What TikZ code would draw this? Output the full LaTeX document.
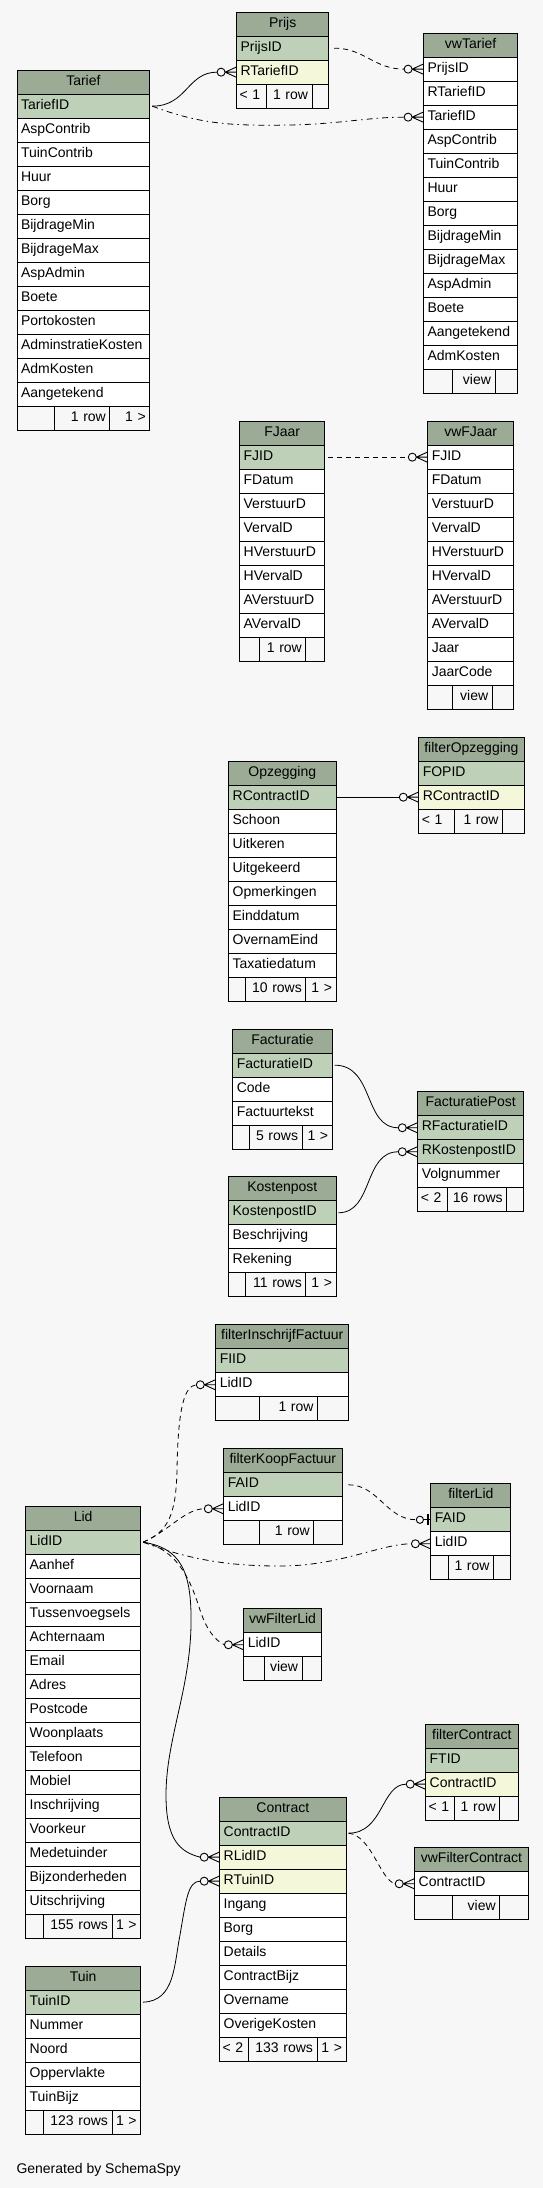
\documentclass[tikz,border=0pt]{standalone}
\usepackage{fontspec}
\setmainfont{Liberation Sans}
\definecolor{bgc}{HTML}{F7F7F7}
\definecolor{hdrc}{HTML}{9BAB96}
\definecolor{pkc}{HTML}{BED1B8}
\definecolor{ixc}{HTML}{F4F7DA}
\newcommand\st{\rule[-4pt]{0pt}{14pt}}
\tikzset{
  cell/.style={draw,line width=0.9pt,anchor=north west,minimum height=24pt,inner xsep=4pt,inner ysep=0pt,align=left,fill=white,font=\fontsize{14}{16}\selectfont},
  hdr/.style={fill=hdrc,align=center},
  pk/.style={fill=pkc},
  ix/.style={fill=ixc},
  nm/.style={},
  fcell/.style={cell,fill=bgc,inner xsep=3pt},
  rel/.style={line width=0.8pt},
  reldash/.style={rel,dash pattern=on 5pt off 4pt},
  reldashdot/.style={rel,dash pattern=on 6pt off 4pt on 1.5pt off 4pt},
  mk/.style={line width=0.9pt}
}
\newcommand\cell[6]{%
  \pgfmathsetmacro\cellw{#4-8}%
  \node[cell,#5,minimum width=#4pt,text width=\cellw pt] (#1) at (#2,{#3}) {\st#6};%
}
\newcommand\rows[5]{%
  \foreach \nm/\sty [count=\i] in {#5} {\cell{#1-\nm}{#2}{#3+24*\i}{#4}{\sty}{\nm}}%
}
\newcommand\foot[9]{%
  \pgfmathsetmacro\fa{#4-6}\pgfmathsetmacro\fb{#5-8}\pgfmathsetmacro\fc{#6-8}%
  \pgfmathsetmacro\xb{#2+#4}\pgfmathsetmacro\xc{#2+#4+#5}%
  \node[fcell,align=left,minimum width=#4pt,text width=\fa pt] (#1-f1) at (#2,{#3}) {\st\mbox{#7}};%
  \node[fcell,inner xsep=4pt,align=right,minimum width=#5pt,text width=\fb pt] (#1-f2) at (\xb,{#3}) {\st\mbox{#8}};%
  \node[fcell,inner xsep=4pt,align=right,minimum width=#6pt,text width=\fc pt] (#1-f3) at (\xc,{#3}) {\st\mbox{#9}};%
}
\newcommand\crowodot[1]{%
  \draw[mk] ([xshift=-11pt]#1.west) -- ([yshift=5pt]#1.west)
            ([xshift=-11pt]#1.west) -- (#1.west)
            ([xshift=-11pt]#1.west) -- ([yshift=-5pt]#1.west);
  \filldraw[mk,fill=bgc] ([xshift=-15pt]#1.west) circle (4);
}
\newcommand\zeroone[1]{%
  \draw[mk] ([xshift=-7pt]#1.west) -- (#1.west);
  \draw[line width=2.5pt] ([xshift=-2.5pt,yshift=5.5pt]#1.west) -- ([xshift=-2.5pt,yshift=-5.5pt]#1.west);
  \filldraw[mk,fill=bgc] ([xshift=-10.5pt]#1.west) circle (3.6);
}
\begin{document}
\begin{tikzpicture}[x=1pt,y=-1pt]
\fill[bgc] (0,0) rectangle (543,2188);
\useasboundingbox (0,0) rectangle (543,2188);

% Tarief
\cell{tarief}{16.6}{69.7}{132.7}{hdr}{Tarief}
\rows{tarief}{16.6}{69.7}{132.7}{TariefID/pk,AspContrib/nm,TuinContrib/nm,Huur/nm,Borg/nm,BijdrageMin/nm,BijdrageMax/nm,AspAdmin/nm,Boete/nm,Portokosten/nm,AdminstratieKosten/nm,AdmKosten/nm,Aangetekend/nm}
\foot{tarief}{16.6}{405.7}{37.1}{55.7}{39.9}{}{1 row}{1 >}

% Prijs
\cell{prijs}{236.1}{11.7}{92.2}{hdr}{Prijs}
\rows{prijs}{236.1}{11.7}{92.2}{PrijsID/pk,RTariefID/ix}
\foot{prijs}{236.1}{83.7}{29.5}{46}{16.7}{< 1}{1 row}{}

% vwTarief
\cell{vwtarief}{423.1}{32.7}{94.2}{hdr}{vwTarief}
\rows{vwtarief}{423.1}{32.7}{94.2}{PrijsID/nm,RTariefID/nm,TariefID/nm,AspContrib/nm,TuinContrib/nm,Huur/nm,Borg/nm,BijdrageMin/nm,BijdrageMax/nm,AspAdmin/nm,Boete/nm,Aangetekend/nm,AdmKosten/nm}
\foot{vwtarief}{423.1}{368.7}{28.5}{42.9}{22.8}{}{view}{}

% FJaar
\cell{fjaar}{239.2}{420.7}{85.2}{hdr}{FJaar}
\rows{fjaar}{239.2}{420.7}{85.2}{FJID/pk,FDatum/nm,VerstuurD/nm,VervalD/nm,HVerstuurD/nm,HVervalD/nm,AVerstuurD/nm,AVervalD/nm}
\foot{fjaar}{239.2}{636.7}{20.2}{46}{19}{}{1 row}{}

% vwFJaar
\cell{vwfjaar}{427.3}{420.7}{85.9}{hdr}{vwFJaar}
\rows{vwfjaar}{427.3}{420.7}{85.9}{FJID/nm,FDatum/nm,VerstuurD/nm,VervalD/nm,HVerstuurD/nm,HVervalD/nm,AVerstuurD/nm,AVervalD/nm,Jaar/nm,JaarCode/nm}
\foot{vwfjaar}{427.3}{684.7}{24.3}{40.1}{21.5}{}{view}{}

% filterOpzegging
\cell{fopz}{418.3}{736.7}{105.3}{hdr}{filterOpzegging}
\rows{fopz}{418.3}{736.7}{105.3}{FOPID/pk,RContractID/ix}
\foot{fopz}{418.3}{808.7}{36}{47.8}{21.5}{< 1}{1 row}{}

% Opzegging
\cell{opz}{228.2}{760.7}{107.3}{hdr}{Opzegging}
\rows{opz}{228.2}{760.7}{107.3}{RContractID/pk,Schoon/nm,Uitkeren/nm,Uitgekeerd/nm,Opmerkingen/nm,Einddatum/nm,OvernamEind/nm,Taxatiedatum/nm}
\foot{opz}{228.2}{976.7}{17}{60.2}{30.1}{}{10 rows}{1 >}

% Facturatie
\cell{fact}{232.4}{1028.7}{99.3}{hdr}{Facturatie}
\rows{fact}{232.4}{1028.7}{99.3}{FacturatieID/pk,Code/nm,Factuurtekst/nm}
\foot{fact}{232.4}{1124.7}{16.9}{52.3}{30.1}{}{5 rows}{1 >}

% Kostenpost
\cell{kost}{228.2}{1176.3}{107.3}{hdr}{Kostenpost}
\rows{kost}{228.2}{1176.3}{107.3}{KostenpostID/pk,Beschrijving/nm,Rekening/nm}
\foot{kost}{228.2}{1272.3}{17}{60.2}{30.1}{}{11 rows}{1 >}

% FacturatiePost
\cell{fpost}{417.3}{1091.3}{105.9}{hdr}{FacturatiePost}
\rows{fpost}{417.3}{1091.3}{105.9}{RFacturatieID/pk,RKostenpostID/pk,Volgnummer/nm}
\foot{fpost}{417.3}{1187.3}{29.4}{59.5}{17}{< 2}{16 rows}{}

% filterInschrijfFactuur
\cell{fif}{215.3}{1324.3}{133}{hdr}{filterInschrijfFactuur}
\rows{fif}{215.3}{1324.3}{133}{FIID/pk,LidID/nm}
\foot{fif}{215.3}{1396.3}{44.1}{57.7}{31.2}{}{1 row}{}

% filterKoopFactuur
\cell{fkoop}{223.3}{1448.3}{118.2}{hdr}{filterKoopFactuur}
\rows{fkoop}{223.3}{1448.3}{118.2}{FAID/pk,LidID/nm}
\foot{fkoop}{223.3}{1520.3}{36.1}{54}{28.1}{}{1 row}{}

% filterLid
\cell{flid}{430.4}{1483.3}{80}{hdr}{filterLid}
\rows{flid}{430.4}{1483.3}{80}{FAID/pk,LidID/nm}
\foot{flid}{430.4}{1555.3}{17.3}{45.4}{17.3}{}{1 row}{}

% Lid
\cell{lid}{25.2}{1505.7}{115}{hdr}{Lid}
\rows{lid}{25.2}{1505.7}{115}{LidID/pk,Aanhef/nm,Voornaam/nm,Tussenvoegsels/nm,Achternaam/nm,Email/nm,Adres/nm,Postcode/nm,Woonplaats/nm,Telefoon/nm,Mobiel/nm,Inschrijving/nm,Voorkeur/nm,Medetuinder/nm,Bijzonderheden/nm,Uitschrijving/nm}
\foot{lid}{25.2}{1913.7}{18.1}{68.2}{28.7}{}{155 rows}{1 >}

% vwFilterLid
\cell{vwfl}{243.4}{1608.3}{77.3}{hdr}{vwFilterLid}
\rows{vwfl}{243.4}{1608.3}{77.3}{LidID/nm}
\foot{vwfl}{243.4}{1656.3}{20.1}{38.1}{19.1}{}{view}{}

% filterContract
\cell{fcon}{425.2}{1723.7}{92.4}{hdr}{filterContract}
\rows{fcon}{425.2}{1723.7}{92.4}{FTID/pk,ContractID/ix}
\foot{fcon}{425.2}{1795.7}{29.1}{45}{18.3}{< 1}{1 row}{}

% Contract
\cell{contract}{219.2}{1796.7}{126.4}{hdr}{Contract}
\rows{contract}{219.2}{1796.7}{126.4}{ContractID/pk,RLidID/ix,RTuinID/ix,Ingang/nm,Borg/nm,Details/nm,ContractBijz/nm,Overname/nm,OverigeKosten/nm}
\foot{contract}{219.2}{2036.7}{29.1}{68.2}{29.1}{< 2}{133 rows}{1 >}

% vwFilterContract
\cell{vwfc}{414.2}{1847.3}{113.5}{hdr}{vwFilterContract}
\rows{vwfc}{414.2}{1847.3}{113.5}{ContractID/nm}
\foot{vwfc}{414.2}{1895.3}{37.4}{47.7}{28.4}{}{view}{}

% Tuin
\cell{tuin}{25.2}{1965.7}{115}{hdr}{Tuin}
\rows{tuin}{25.2}{1965.7}{115}{TuinID/pk,Nummer/nm,Noord/nm,Oppervlakte/nm,TuinBijz/nm}
\foot{tuin}{25.2}{2109.7}{18.1}{68.2}{28.7}{}{123 rows}{1 >}

% footer text
\node[anchor=base west,inner sep=0pt,font=\fontsize{14}{16}\selectfont] (gen) at (16.3,2173.3) {Generated by SchemaSpy};

% connectors
\draw[reldash] ([xshift=5pt]prijs-PrijsID.east) .. controls +(30,0) and +(-30,0) .. ([xshift=-19pt]vwtarief-PrijsID.west);
\draw[rel] ([xshift=2pt]tarief-TariefID.east) .. controls +(35,0) and +(-30,0) .. ([xshift=-19pt]prijs-RTariefID.west);
\draw[reldashdot] ([xshift=2pt]tarief-TariefID.east) .. controls (200,124) and (230,126) .. (290,125) .. controls (340,124) and (370,117) .. ([xshift=-19pt]vwtarief-TariefID.west);
\draw[reldash] ([xshift=3pt]fjaar-FJID.east) -- ([xshift=-19pt]vwfjaar-FJID.west);
\draw[rel] (opz-RContractID.east) -- ([xshift=-19pt]fopz-RContractID.west);
\draw[rel] ([xshift=2pt]fact-FacturatieID.east) .. controls +(40,0) and +(-35,0) .. ([xshift=-19pt]fpost-RFacturatieID.west);
\draw[rel] ([xshift=2pt]kost-KostenpostID.east) .. controls +(35,0) and +(-35,0) .. ([xshift=-19pt]fpost-RKostenpostID.west);
\draw[reldash] ([xshift=6pt]fkoop-FAID.east) .. controls +(30,0) and +(-30,0) .. ([xshift=-14pt]flid-FAID.west);
\draw[reldash] ([xshift=2pt]lid-LidID.east) .. controls (168,1532) and (176,1515) .. (177,1470) .. controls (178,1405) and (185,1386) .. ([xshift=-19pt]fif-LidID.west);
\draw[reldash] ([xshift=2pt]lid-LidID.east) .. controls (170,1530) and (185,1509) .. ([xshift=-19pt]fkoop-LidID.west);
\draw[reldashdot] ([xshift=2pt]lid-LidID.east) .. controls (190,1560) and (230,1566) .. (280,1566) .. controls (340,1566) and (380,1544) .. ([xshift=-19pt]flid-LidID.west);
\draw[reldash] ([xshift=2pt]lid-LidID.east) .. controls (180,1550) and (192,1585) .. (200,1610) .. controls (206,1628) and (214,1640) .. ([xshift=-19pt]vwfl-LidID.west);
\draw[rel] ([xshift=2pt]lid-LidID.east) .. controls (180,1548) and (192,1570) .. (191,1625) .. controls (190,1690) and (166,1740) .. (166,1795) .. controls (166,1840) and (180,1852) .. ([xshift=-19pt]contract-RLidID.west);
\draw[rel] ([xshift=2pt]contract-ContractID.east) .. controls +(35,0) and +(-25,0) .. ([xshift=-19pt]fcon-ContractID.west);
\draw[reldash] ([xshift=2pt]contract-ContractID.east) .. controls (372,1836) and (380,1880) .. ([xshift=-19pt]vwfc-ContractID.west);
\draw[rel] ([xshift=2pt]tuin-TuinID.east) .. controls (175,2001) and (174,1965) .. (180,1935) .. controls (186,1900) and (188,1881) .. ([xshift=-19pt]contract-RTuinID.west);

% end markers
\crowodot{vwtarief-PrijsID}
\crowodot{prijs-RTariefID}
\crowodot{vwtarief-TariefID}
\crowodot{vwfjaar-FJID}
\crowodot{fopz-RContractID}
\crowodot{fpost-RFacturatieID}
\crowodot{fpost-RKostenpostID}
\zeroone{flid-FAID}
\crowodot{fif-LidID}
\crowodot{fkoop-LidID}
\crowodot{flid-LidID}
\crowodot{vwfl-LidID}
\crowodot{contract-RLidID}
\crowodot{fcon-ContractID}
\crowodot{vwfc-ContractID}
\crowodot{contract-RTuinID}
\end{tikzpicture}
\end{document}
